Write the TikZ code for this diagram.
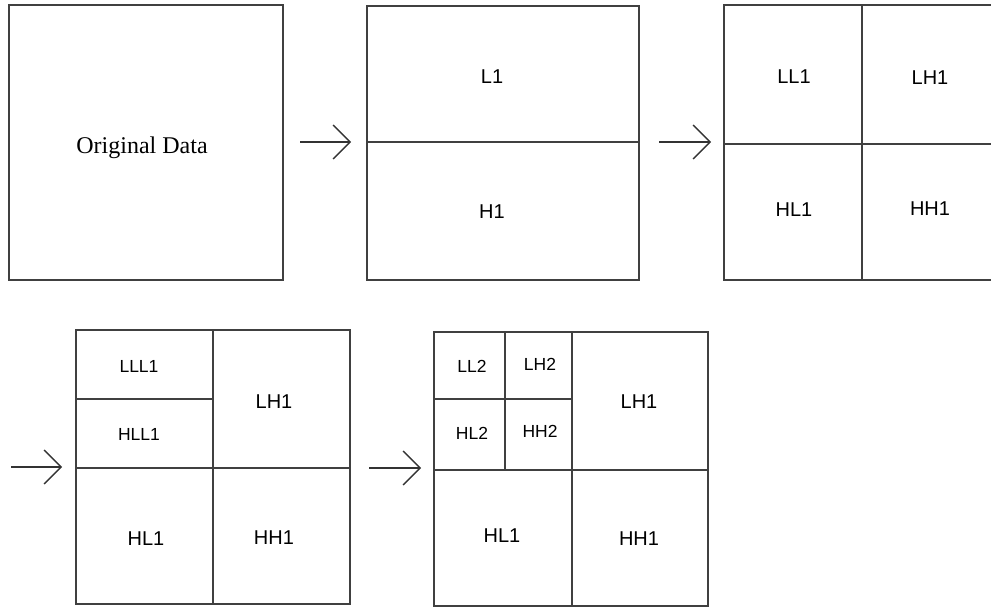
\documentclass[tikz,border=0pt]{standalone}
\usepackage{fontspec}
\setmainfont{Liberation Sans}
\newfontfamily\datafont{Liberation Serif}
\usetikzlibrary{arrows.meta}
\tikzset{
  box/.style={draw=black!75, line width=1.3pt},
  lbl/.style={anchor=base, font=\fontsize{20}{24}\selectfont},
  sml/.style={anchor=base, font=\fontsize{17.5}{21}\selectfont},
  arr/.style={-{Straight Barb[length=17pt,width=34pt,line width=1.3pt]}, line width=1.3pt, draw=black!80}
}

\begin{document}
\begin{tikzpicture}[x=1pt,y=-1pt]
		\useasboundingbox (0,0) rectangle (991,609);
		\clip (0,0) rectangle (991,609);
		
		% original data
		\draw[box] (9,5) rectangle (283,280);
		\node[anchor=base, font=\datafont\fontsize{24}{28}\selectfont] (orig) at (142,154) {Original Data};
		
		% one split
		\draw[box] (367,6) rectangle (639,280);
		\draw[box] (367,142) -- (639,142);
		\node[lbl] (l1) at (492,84) {L1};
		\node[lbl] (h1) at (492,219) {H1};
		
		% four bands
		\draw[box] (724,5) rectangle (1000,280);
		\draw[box] (862,5) -- (862,280);
		\draw[box] (724,144) -- (1000,144);
		\node[lbl] (ll1) at (794,84) {LL1};
		\node[lbl] (lh1) at (930,85) {LH1};
		\node[lbl] (hl1) at (794,217) {HL1};
		\node[lbl] (hh1) at (930,216) {HH1};
		
		% LL1 split again
		\draw[box] (76,330) rectangle (350,604);
		\draw[box] (213,330) -- (213,604);
		\draw[box] (76,468) -- (350,468);
		\draw[box] (76,399) -- (213,399);
		\node[sml] (lll1) at (139,373) {LLL1};
		\node[sml] (hll1) at (139,441) {HLL1};
		\node[lbl] (lh1b) at (274,409) {LH1};
		\node[lbl] (hl1b) at (146,545) {HL1};
		\node[lbl] (hh1b) at (274,544) {HH1};
		
		% second level
		\draw[box] (434,332) rectangle (708,606);
		\draw[box] (572,332) -- (572,606);
		\draw[box] (434,470) -- (708,470);
		\draw[box] (505,332) -- (505,470);
		\draw[box] (434,399) -- (572,399);
		\node[sml] (ll2) at (472,373) {LL2};
		\node[sml] (lh2) at (540,371) {LH2};
		\node[sml] (hl2) at (472,440) {HL2};
		\node[sml] (hh2) at (540,438) {HH2};
		\node[lbl] (lh1c) at (639,409) {LH1};
		\node[lbl] (hl1c) at (502,542) {HL1};
		\node[lbl] (hh1c) at (639,545) {HH1};
		
		% arrows
		\coordinate (a1s) at (300,142); \coordinate (a1e) at (351,142);
		\coordinate (a2s) at (659,142); \coordinate (a2e) at (711,142);
		\coordinate (a3s) at (11,467);  \coordinate (a3e) at (62,467);
		\coordinate (a4s) at (369,468); \coordinate (a4e) at (421,468);
		\draw[arr] (a1s) -- (a1e);
		\draw[arr] (a2s) -- (a2e);
		\draw[arr] (a3s) -- (a3e);
		\draw[arr] (a4s) -- (a4e);
\end{tikzpicture}
\end{document}
